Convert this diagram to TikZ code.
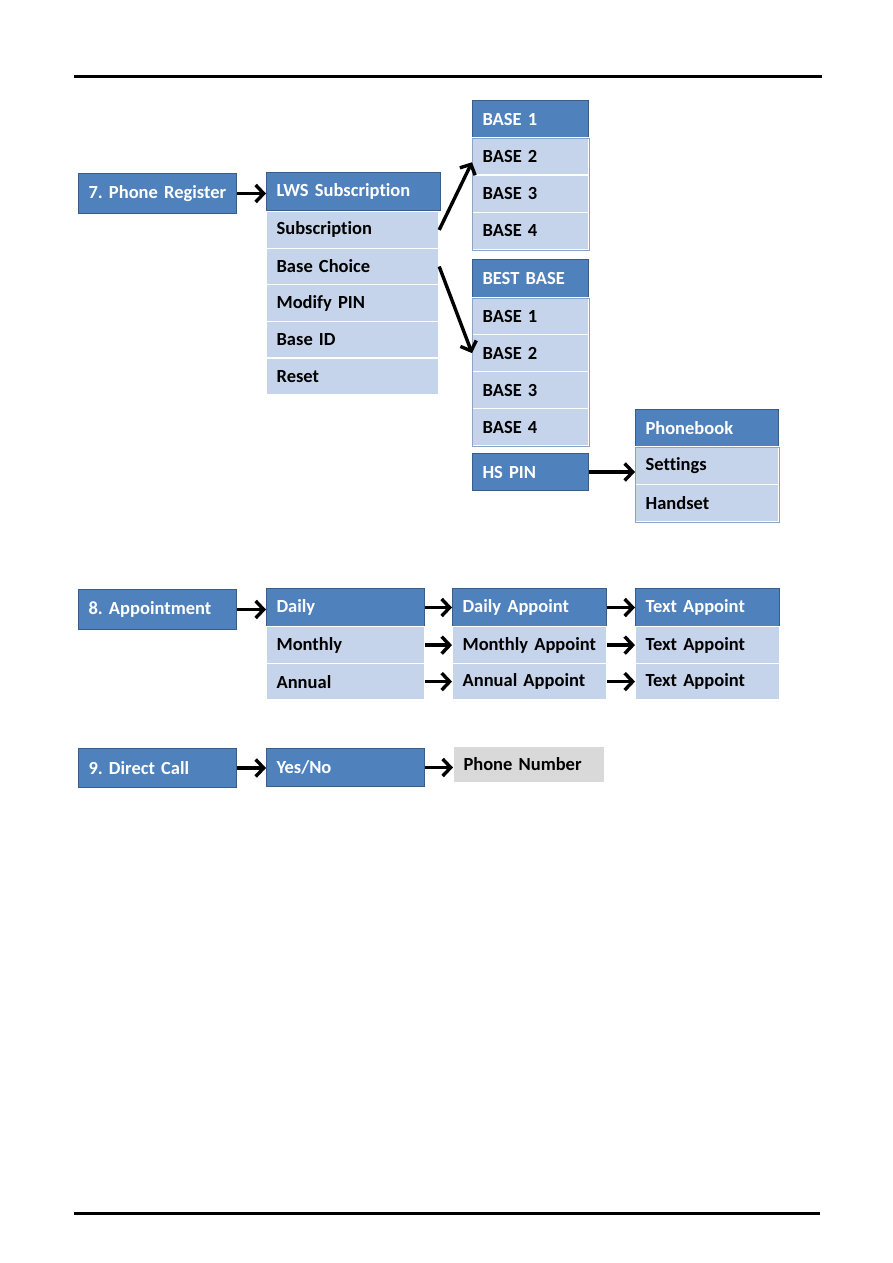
\documentclass[tikz,border=0pt]{standalone}
\usepackage{fontspec}
\setmainfont{Carlito}[Ligatures=NoCommon]
\usetikzlibrary{arrows.meta}
\definecolor{hdrfill}{RGB}{79,129,189}
\definecolor{hdrline}{RGB}{56,93,138}
\definecolor{rowfill}{RGB}{197,212,234}
\definecolor{grpline}{RGB}{140,163,196}
\definecolor{grayfill}{RGB}{217,217,217}
\tikzset{
  mbox/.style={anchor=north west, inner xsep=10pt, inner ysep=0pt, align=left,
    font=\bfseries\fontsize{18.5}{21}\selectfont\frenchspacing},
  hdr/.style={mbox, fill=hdrfill, draw=hdrline, line width=1pt, text=white},
  row/.style={mbox, fill=rowfill, draw=white, line width=1.2pt, text=black},
  graybox/.style={mbox, fill=grayfill, draw=white, line width=1pt, text=black},
  arr/.style={line width=3.4pt, -{Straight Barb[length=8pt,width=17pt]}},
  grp/.style={draw=grpline, line width=0.8pt},
  rule/.style={line width=3pt},
}
\begin{document}
\begin{tikzpicture}[x=1pt,y=-1pt]
\useasboundingbox (0,0) rectangle (893,1263);
% page rules
\coordinate (tl) at (74,76.5);
\coordinate (tr) at (822,76.5);
\coordinate (bl) at (74,1213);
\coordinate (br) at (820,1213);
\draw[rule] (tl) -- (tr);
\draw[rule] (bl) -- (br);

% ---------- Section 7 ----------
\node[hdr, text width=138pt, minimum height=40pt] (pr) at (78,173) {7. Phone Register};
\node[hdr, text width=154pt, minimum height=38pt] (lws) at (266,172) {LWS Subscription};
\node[row, text width=152pt, minimum height=36.6pt] (sub) at (266,211) {Subscription};
\node[row, text width=152pt, minimum height=36.6pt] (bc) at (266,247.6) {Base Choice};
\node[row, text width=152pt, minimum height=36.6pt] (mp) at (266,284.2) {Modify PIN};
\node[row, text width=152pt, minimum height=36.6pt] (bid) at (266,320.8) {Base ID};
\node[row, text width=152pt, minimum height=36.6pt] (rst) at (266,357.4) {Reset};

\node[hdr, text width=96pt, minimum height=37pt] (a0) at (472,100) {BASE 1};
\node[row, text width=96pt, minimum height=37.3pt] (a1) at (472,137) {BASE 2};
\node[row, text width=96pt, minimum height=37.3pt] (a2) at (472,174.3) {BASE 3};
\node[row, text width=96pt, minimum height=37.3pt] (a3) at (472,211.6) {BASE 4};
\draw[grp] (a0.south west) rectangle (a3.south east);

\node[hdr, text width=96pt, minimum height=38pt] (c0) at (472,259) {BEST BASE};
\node[row, text width=96pt, minimum height=37pt] (c1) at (472,297) {BASE 1};
\node[row, text width=96pt, minimum height=37pt] (c2) at (472,334) {BASE 2};
\node[row, text width=96pt, minimum height=37pt] (c3) at (472,371) {BASE 3};
\node[row, text width=96pt, minimum height=37pt] (c4) at (472,408) {BASE 4};
\draw[grp] (c0.south west) rectangle (c4.south east);

\node[hdr, text width=96pt, minimum height=37pt] (hs) at (472,453) {HS PIN};

\node[hdr, text width=123pt, minimum height=37pt] (pb) at (635,409) {Phonebook};
\node[row, text width=123pt, minimum height=37.5pt] (ps) at (635,446) {Settings};
\node[row, text width=123pt, minimum height=37.5pt] (ph) at (635,483.5) {Handset};
\draw[grp] (pb.south west) rectangle (ph.south east);

\draw[arr] (pr.east) -- (pr.east -| lws.west);
\draw[arr] (sub.east) -- ([yshift=-6pt]a1.west);
\draw[arr] (bc.east) -- (c2.west);
\draw[arr] (hs.east) -- (hs.east -| ps.west);

% ---------- Section 8 ----------
\node[hdr, text width=138pt, minimum height=40pt] (ap) at (78,589) {8. Appointment};
\node[hdr, text width=138pt, minimum height=38pt] (d) at (266,588) {Daily};
\node[row, text width=138pt, minimum height=37pt] (m) at (266,626) {Monthly};
\node[row, text width=138pt, minimum height=36pt] (an) at (266,663) {Annual};

\node[hdr, text width=134pt, minimum height=38pt] (da) at (452,588) {Daily Appoint};
\node[row, text width=134pt, minimum height=37pt] (ma) at (452,626) {Monthly~Appoint};
\node[row, text width=134pt, minimum height=36pt] (aa) at (452,663) {Annual Appoint};

\node[hdr, text width=124pt, minimum height=38pt] (t1) at (635,588) {Text Appoint};
\node[row, text width=124pt, minimum height=37pt] (t2) at (635,626) {Text Appoint};
\node[row, text width=124pt, minimum height=36pt] (t3) at (635,663) {Text Appoint};

\draw[arr] (ap.east) -- (ap.east -| d.west);
\draw[arr] (d.east) -- (da.west);
\draw[arr] (m.east) -- (ma.west);
\draw[arr] (an.east) -- (aa.west);
\draw[arr] (da.east) -- (t1.west);
\draw[arr] (ma.east) -- (t2.west);
\draw[arr] (aa.east) -- (t3.west);

% ---------- Section 9 ----------
\node[hdr, text width=138pt, minimum height=39pt] (dc) at (78,748) {9. Direct Call};
\node[hdr, text width=138pt, minimum height=38pt] (yn) at (266,748) {Yes/No};
\node[graybox, text width=131pt, minimum height=36pt] (pn) at (453,746) {Phone Number};

\draw[arr] (dc.east) -- (dc.east -| yn.west);
\draw[arr] (yn.east) -- (yn.east -| pn.west);
\end{tikzpicture}
\end{document}
